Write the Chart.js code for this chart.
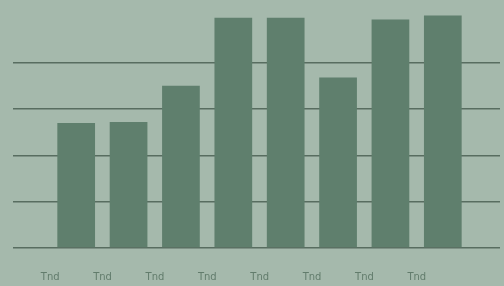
<!DOCTYPE html>
<html>
<head>
<meta charset="utf-8">
<script src="https://cdn.jsdelivr.net/npm/chart.js@4"></script>
<style>
    html, body { margin: 0; padding: 0; background: #a5b9ac; }
    canvas { display: block; }
</style>
</head>
<body>
<canvas id="barChart" width="504" height="286"></canvas>
<script>
let categories = ["Tnd", "Tnd", "Tnd", "Tnd", "Tnd", "Tnd", "Tnd", "Tnd"];
let values = [2.70, 2.72, 3.50, 4.97, 4.97, 3.68, 4.93, 5.02];
let yTicks = [0, 1, 2, 3, 4];

let gridColor = "#586d60";

function lineColor(ctx) {
    return yTicks.includes(ctx.tick.value) ? gridColor : "rgba(0,0,0,0)";
}

let ctx = document.getElementById("barChart").getContext("2d");

new Chart(ctx, {
    type: "bar",
    data: {
        labels: categories,
        datasets: [{
            data: values,
            backgroundColor: "#5f7f6d",
            borderWidth: 0,
            barPercentage: 0.9,
            categoryPercentage: 0.8
        }]
    },
    options: {
        responsive: false,
        animation: false,
        layout: { padding: { left: 13, right: 4, top: 14, bottom: 1 } },
        plugins: {
            legend: { display: false },
            tooltip: { enabled: false }
        },
        scales: {
            x: {
                grid: { display: false, tickLength: 21 },
                border: { display: false },
                ticks: {
                    color: "#627c6c",
                    font: { family: "DejaVu Sans", size: 10 },
                    padding: 2,
                    labelOffset: -26,
                    maxRotation: 0
                }
            },
            y: {
                min: 0,
                max: 5.05,
                border: { display: false },
                grid: { color: lineColor, lineWidth: 1.5, tickLength: 37 },
                ticks: { stepSize: 1, display: false }
            },
            yRight: {
                position: "right",
                min: 0,
                max: 5.05,
                border: { display: false },
                grid: { color: lineColor, lineWidth: 1.5, tickLength: 31, drawOnChartArea: false },
                ticks: { stepSize: 1, display: false }
            }
        }
    }
});
</script>
</body>
</html>
